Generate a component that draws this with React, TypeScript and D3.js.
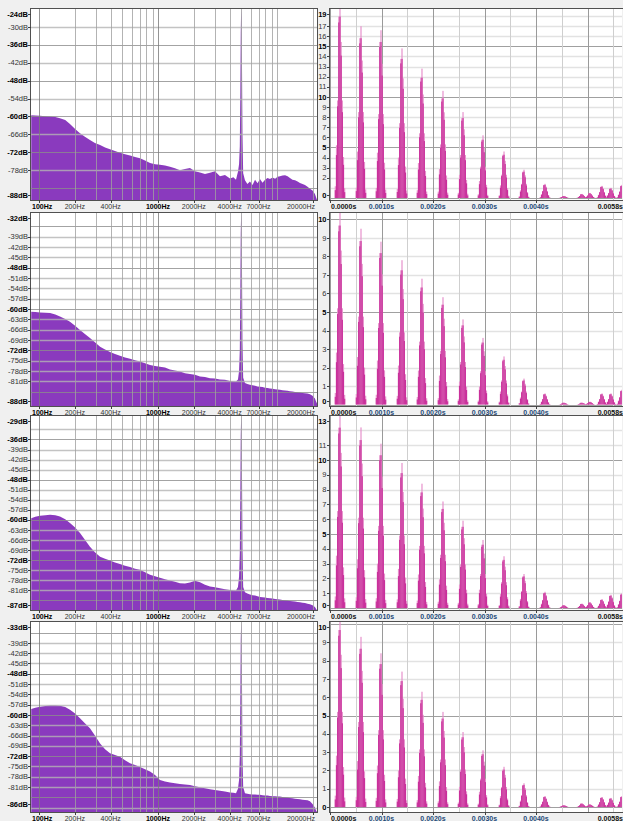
import { useEffect, useRef } from 'react';
import * as d3 from 'd3';

const W = 623;
const H = 821;

// ---- spectrum data (left column) ----
const specFreqs = [86, 93, 102, 113, 124, 137, 150, 166, 182, 201, 221, 243, 268, 295, 326, 359, 395, 435, 479, 528, 582, 641, 706, 778, 857, 944, 1039, 1145, 1261, 1389, 1530, 1686, 1857, 2046, 2254, 2483, 2735, 3013, 3319, 3657, 4028, 4300, 4524, 4700, 4800, 4870, 4920, 4960, 5000, 5040, 5080, 5130, 5200, 5383, 5640, 5930, 6230, 6540, 6870, 7196, 7560, 7940, 8330, 8733, 9180, 9640, 10120, 10594, 11140, 11700, 12280, 12857, 13500, 14190, 14900, 15603, 16400, 17200, 18060, 18935, 19900, 20850, 21270, 21700, 22050];

const spec1 = [-59.6, -59.7, -59.8, -59.9, -60.0, -60.2, -60.6, -61.2, -62.5, -64.2,
  -65.6, -66.8, -67.9, -68.9, -69.6, -70.4, -71.0, -71.6, -72.2, -72.7,
  -73.1, -73.6, -74.0, -74.8, -75.6, -76.0, -76.2, -76.4, -76.9, -77.4,
  -78.0, -77.6, -77.3, -78.4, -78.8, -79.3, -78.9, -78.4, -80.0, -79.6,
  -80.8, -80.4, -81.2, -78.5, -76.0, -70.0, -52.0, -32.0, -24.0, -27.0,
  -42.0, -66.0, -79.0, -81.4, -82.6, -81.8, -83.0, -81.2, -82.4, -81.0,
  -82.2, -81.2, -80.6, -81.0, -80.5, -80.9, -80.2, -80.0, -79.8, -79.7,
  -80.0, -80.6, -81.2, -81.4, -81.8, -82.3, -82.6, -83.0, -83.6, -84.2,
  -84.8, -86.0, -87.0, -88.0, -88.0];

const spec2 = [-60.8, -60.9, -61.0, -61.1, -61.2, -61.6, -62.2, -62.9, -63.7, -64.9,
  -66.1, -67.3, -68.4, -69.7, -71.0, -71.8, -72.5, -73.1, -73.6, -74.1,
  -74.5, -74.9, -75.3, -75.8, -76.3, -76.6, -76.8, -77.0, -77.6, -77.9,
  -78.2, -78.7, -78.9, -79.1, -79.6, -79.8, -80.1, -80.2, -80.5, -80.6,
  -80.9, -81.0, -81.1, -80.5, -78.0, -72.0, -55.0, -38.0, -32.0, -35.0,
  -48.0, -70.0, -80.0, -81.5, -81.8, -82.0, -82.2, -82.3, -82.5, -82.6,
  -82.7, -82.9, -83.0, -83.1, -83.2, -83.3, -83.4, -83.5, -83.6, -83.7,
  -83.8, -83.9, -84.0, -84.1, -84.2, -84.3, -84.4, -84.5, -84.6, -84.8,
  -85.2, -86.0, -86.8, -87.5, -88.0];

const spec3 = [-59.5, -59.1, -58.8, -58.6, -58.5, -58.6, -59.0, -59.8, -60.9, -62.3,
  -63.9, -65.9, -68.0, -69.7, -71.0, -71.6, -72.1, -72.7, -73.2, -73.7,
  -74.1, -74.6, -74.9, -75.6, -76.4, -76.8, -77.3, -77.7, -78.1, -78.5,
  -78.9, -79.0, -78.7, -78.2, -78.6, -79.4, -79.9, -80.1, -80.4, -80.7,
  -80.9, -81.0, -81.1, -80.0, -77.0, -70.0, -52.0, -35.0, -29.0, -32.0,
  -46.0, -68.0, -80.0, -81.6, -82.0, -82.3, -82.5, -82.6, -82.8, -83.0,
  -83.1, -83.2, -83.3, -83.4, -83.5, -83.6, -83.7, -83.8, -83.9, -84.0,
  -84.1, -84.2, -84.3, -84.4, -84.5, -84.6, -84.7, -84.8, -85.0, -85.2,
  -85.5, -86.0, -86.5, -87.0, -87.0];

const spec4 = [-58.3, -57.9, -57.6, -57.4, -57.2, -57.2, -57.3, -57.7, -58.5, -59.6,
  -61.0, -62.4, -63.9, -66.0, -68.3, -70.0, -71.2, -71.7, -72.2, -73.2,
  -74.1, -74.6, -75.2, -75.8, -76.5, -77.5, -79.0, -79.4, -79.7, -79.9,
  -80.1, -80.3, -80.4, -80.8, -81.1, -81.4, -81.7, -81.9, -82.1, -82.3,
  -82.6, -82.7, -82.8, -81.5, -79.0, -72.0, -55.0, -38.0, -33.0, -36.0,
  -50.0, -72.0, -81.0, -82.8, -83.0, -83.1, -83.2, -83.2, -83.3, -83.3,
  -83.4, -83.5, -83.5, -83.6, -83.7, -83.7, -83.8, -83.8, -83.9, -84.0,
  -84.1, -84.2, -84.3, -84.4, -84.5, -84.6, -84.7, -84.8, -84.9, -85.2,
  -86.0, -87.0, -87.8, -88.3, -88.3];

const specRows = [spec1, spec2, spec3, spec4];

const freqGrid = [100, 200, 300, 400, 500, 600, 700, 800, 900, 1000, 2000, 3000, 4000, 5000, 6000, 7000, 8000, 9000, 10000, 20000];
const freqTicks = [100, 200, 400, 1000, 2000, 4000, 7000, 20000];
const freqTickLabels = ['100Hz', '200Hz', '400Hz', '1000Hz', '2000Hz', '4000Hz', '7000Hz', '20000Hz'];

// dB axis of each row
const dbDomains = [[-88, -24], [-88.2, -32.1], [-86.9, -29], [-88.3, -32.9]];
const dbGrid = [
  [-30, -36, -42, -48, -54, -60, -66, -72, -78, -84],
  [-36, -39, -42, -45, -48, -51, -54, -57, -60, -63, -66, -69, -72, -75, -78, -81, -84],
  [-33, -36, -39, -42, -45, -48, -51, -54, -57, -60, -63, -66, -69, -72, -75, -78, -81, -84],
  [-36, -39, -42, -45, -48, -51, -54, -57, -60, -63, -66, -69, -72, -75, -78, -81, -84, -87],
];
const dbLabels = [
  [-24, -30, -36, -42, -48, -54, -60, -66, -72, -78, -88],
  [-32, -39, -42, -45, -48, -51, -54, -57, -60, -63, -66, -69, -72, -75, -78, -81, -88],
  [-29, -36, -39, -42, -45, -48, -51, -54, -57, -60, -63, -66, -69, -72, -75, -78, -81, -87],
  [-33, -39, -42, -45, -48, -51, -54, -57, -60, -63, -66, -69, -72, -75, -78, -81, -86],
];

// ---- impulse train data (right column) ----
const pulseTimes = [0.000194, 0.000602, 0.00099, 0.001398, 0.001786, 0.002194, 0.002583, 0.002971, 0.003379, 0.003767, 0.004175, 0.004544, 0.004893, 0.005049, 0.005282, 0.005456, 0.00567];
const pulse1 = [19.3, 17.0, 16.6, 14.8, 12.8, 10.6, 8.5, 6.2, 4.6, 2.8, 1.4, 0.2, 0.4, 0.5, 1.2, 1.0, 1.3];
const pulse2 = [10.4, 9.5, 8.8, 7.8, 6.8, 5.8, 4.6, 3.6, 2.6, 1.4, 0.6, 0.1, 0.1, 0.15, 0.6, 0.6, 0.8];
const pulse3 = [13.1, 12.2, 11.1, 9.8, 8.4, 7.2, 5.9, 4.6, 3.5, 2.3, 1.1, 0.2, 0.3, 0.4, 0.6, 0.9, 1.0];
const pulse4 = [10.4, 9.3, 8.4, 7.4, 6.3, 5.2, 4.1, 3.1, 2.2, 1.3, 0.6, 0.1, 0.2, 0.15, 0.55, 0.5, 0.6];
const pulseRows = [pulse1, pulse2, pulse3, pulse4];
// sample-by-sample shape of one pulse, relative to its peak
const pulseShapePale = [0.06, 0.27, 0.5, 0.93, 1.0, 0.8, 0.5, 0.21, 0.05];
const pulseShapeDark = [0.04, 0.22, 0.47, 0.9, 0.93, 0.73, 0.44, 0.17, 0.03];
const SAMPLE_RATE = 44100;

const ampDomains = [[-0.2, 18.7], [-0.08, 10.35], [-0.13, 12.97], [-0.27, 10.11]];
const ampLabels = [
  [0, 2, 3, 4, 5, 6, 7, 8, 9, 10, 11, 12, 13, 14, 15, 16, 17, 19],
  [0, 1, 2, 3, 4, 5, 6, 7, 8, 9, 10],
  [0, 1, 2, 3, 4, 5, 6, 7, 8, 9, 10, 11, 13],
  [0, 1, 2, 3, 4, 5, 6, 7, 8, 9, 10],
];
const timeTicks = [0, 0.001, 0.002, 0.003, 0.004];
const timeEnd = 0.0058;

// ---- layout ----
const rowTop = [9, 213, 416, 622];
const rowBottom = [200, 406, 610, 812];
const L0 = 31, L1 = 317;
const R0 = 330, R1 = 622;

const FONT = '"Liberation Sans", Arial, sans-serif';
const PURPLE = '#8a3abe';
const DARK_PINK = '#c9309b';
const PALE_PINK = '#e68fcb';

export default function App() {
  const ref = useRef<SVGSVGElement>(null);

  useEffect(() => {
    if (!ref.current) return;
    document.body.style.margin = '0';
    const svg = d3.select(ref.current);
    svg.selectAll('*').remove();
    svg.attr('width', W).attr('height', H).style('display', 'block');

    svg.append('rect').attr('width', W).attr('height', H).attr('fill', '#f0f0f0');
    const defs = svg.append('defs');

    const x = d3.scaleLog().domain([85.6, 21700]).range([L0, L1]);
    const tx = d3.scaleLinear().domain([0, timeEnd]).range([R0, 628.7]);

    rowTop.forEach((top, i) => {
      const bottom = rowBottom[i];
      const y = d3.scaleLinear().domain(dbDomains[i]).range([bottom, top]);
      const clamp = (v: number) => Math.max(top + 5, Math.min(bottom - 5, v));

      // ---------- left: spectrum ----------
      defs.append('clipPath').attr('id', `cl${i}`)
        .append('rect').attr('x', L0).attr('y', top).attr('width', L1 - L0).attr('height', bottom - top);

      svg.append('rect').attr('x', L0).attr('y', top).attr('width', L1 - L0).attr('height', bottom - top)
        .attr('fill', '#fff');

      const gl = svg.append('g').attr('clip-path', `url(#cl${i})`);
      const area = d3.area<number>()
        .x((_, k) => x(specFreqs[k]))
        .y0(bottom)
        .y1(d => y(d));
      gl.append('path').attr('d', area(specRows[i]) as string).attr('fill', PURPLE);

      // grid on top of the fill
      dbGrid[i].forEach(v => {
        const major = v % 12 === 0;
        gl.append('line').attr('x1', L0).attr('x2', L1)
          .attr('y1', Math.round(y(v)) + 0.5).attr('y2', Math.round(y(v)) + 0.5)
          .attr('stroke', major ? '#8c8c8c' : '#b4b4b4').attr('stroke-opacity', 0.8)
          .attr('stroke-width', major ? 1 : 1.4);
      });
      freqGrid.forEach(f => {
        const major = f === 100 || f === 1000;
        const px = Math.round(x(f)) + 0.5;
        gl.append('line').attr('x1', px).attr('x2', px).attr('y1', top).attr('y2', bottom)
          .attr('stroke', major ? '#7a7a7a' : '#a0a0a0').attr('stroke-opacity', 0.8);
      });

      svg.append('rect').attr('x', L0 - 0.5).attr('y', top - 0.5).attr('width', L1 - L0 + 1).attr('height', bottom - top + 1)
        .attr('fill', 'none').attr('stroke', '#505050');

      // dB labels
      dbLabels[i].forEach(v => {
        const bold = v % 12 === 0 || v === dbLabels[i][0] || v === dbLabels[i][dbLabels[i].length - 1];
        const py = clamp(y(v));
        svg.append('line').attr('x1', L0 - 3).attr('x2', L0).attr('y1', Math.round(py) + 0.5).attr('y2', Math.round(py) + 0.5)
          .attr('stroke', '#404040');
        svg.append('text').attr('x', L0 - 3).attr('y', py).attr('dy', '0.35em')
          .attr('text-anchor', 'end').attr('font-family', FONT).attr('font-size', '7.5px')
          .attr('font-weight', bold ? 'bold' : 'normal').attr('fill', bold ? '#000' : '#333')
          .text(`${v}dB`);
      });

      // frequency labels
      freqTicks.forEach((f, k) => {
        const px = x(f);
        svg.append('line').attr('x1', Math.round(px) + 0.5).attr('x2', Math.round(px) + 0.5)
          .attr('y1', bottom).attr('y2', bottom + 3).attr('stroke', '#404040');
        const label = freqTickLabels[k];
        const bold = f === 100 || f === 1000;
        const t = svg.append('text').attr('y', bottom + 7).attr('dy', '0.35em')
          .attr('font-family', FONT).attr('font-size', '7px')
          .attr('font-weight', bold ? 'bold' : 'normal').attr('fill', bold ? '#000' : '#333')
          .text(label);
        const w = (t.node() as SVGTextElement).getComputedTextLength();
        const lx = Math.max(L0 + 1, Math.min(L1 - 2 - w, px - w / 2));
        t.attr('x', lx);
      });

      // ---------- right: impulse train ----------
      const ya = d3.scaleLinear().domain(ampDomains[i]).range([bottom, top]);

      defs.append('clipPath').attr('id', `cr${i}`)
        .append('rect').attr('x', R0).attr('y', top).attr('width', R1 - R0).attr('height', bottom - top);

      svg.append('rect').attr('x', R0).attr('y', top).attr('width', R1 - R0).attr('height', bottom - top)
        .attr('fill', '#fff');
      const gr = svg.append('g').attr('clip-path', `url(#cr${i})`);

      d3.range(Math.ceil(ampDomains[i][0]), Math.floor(ampDomains[i][1]) + 1).forEach(v => {
        const major = v % 5 === 0;
        const py = Math.round(ya(v)) + 0.5;
        gr.append('line').attr('x1', R0).attr('x2', R1).attr('y1', py).attr('y2', py)
          .attr('stroke', major ? '#a0a0a0' : '#e2e2e2').attr('stroke-width', major ? 1 : 1.5);
      });
      d3.range(0, 12).forEach(k => {
        const t = k * 0.0005;
        const major = k % 2 === 0;
        const px = Math.round(tx(t)) + 0.5;
        gr.append('line').attr('x1', px).attr('x2', px).attr('y1', top).attr('y2', bottom)
          .attr('stroke', major ? '#9a9a9a' : '#cfcfcf');
      });

      const peaks = pulseRows[i];
      pulseTimes.forEach((tc, j) => {
        const shapes: [number[], string][] = [[pulseShapePale, PALE_PINK], [pulseShapeDark, DARK_PINK]];
        shapes.forEach(([shape, color]) => {
          shape.forEach((s, k) => {
            const t0 = tc + (k - 4.5) / SAMPLE_RATE;
            const t1 = t0 + 1 / SAMPLE_RATE;
            const v = peaks[j] * s;
            gr.append('rect')
              .attr('x', tx(t0)).attr('width', tx(t1) - tx(t0))
              .attr('y', ya(v)).attr('height', Math.max(0, ya(0) - ya(v)))
              .attr('fill', color);
          });
        });
      });

      svg.append('rect').attr('x', R0 - 0.5).attr('y', top - 0.5).attr('width', R1 - R0 + 2).attr('height', bottom - top + 1)
        .attr('fill', 'none').attr('stroke', '#505050');

      ampLabels[i].forEach(v => {
        const bold = v % 5 === 0 || v === ampLabels[i][ampLabels[i].length - 1];
        const py = clamp(ya(v));
        svg.append('line').attr('x1', R0 - 3).attr('x2', R0).attr('y1', Math.round(py) + 0.5).attr('y2', Math.round(py) + 0.5)
          .attr('stroke', '#404040');
        svg.append('text').attr('x', R0 - 3.5).attr('y', py).attr('dy', '0.35em')
          .attr('text-anchor', 'end').attr('font-family', FONT).attr('font-size', '7.5px')
          .attr('font-weight', bold ? 'bold' : 'normal').attr('fill', bold ? '#000' : '#333')
          .text(v);
      });

      const fmt = (t: number) => `${t.toFixed(4)}s`;
      [...timeTicks, timeEnd].forEach((t, k) => {
        const px = tx(t);
        const isEnd = k === timeTicks.length;
        if (!isEnd) {
          svg.append('line').attr('x1', Math.round(px) + 0.5).attr('x2', Math.round(px) + 0.5)
            .attr('y1', bottom).attr('y2', bottom + 3).attr('stroke', '#404040');
        }
        const edge = k === 0 || isEnd;
        const tt = svg.append('text').attr('y', bottom + 7).attr('dy', '0.35em')
          .attr('font-family', FONT).attr('font-size', '7px').attr('font-weight', 'bold')
          .attr('fill', edge ? '#111' : '#1e4a78')
          .text(fmt(t));
        const w = (tt.node() as SVGTextElement).getComputedTextLength();
        const lx = Math.max(R0 + 1, Math.min(W - w, px - w / 2));
        tt.attr('x', lx);
      });
    });
  }, []);

  return <svg ref={ref} />;
}
